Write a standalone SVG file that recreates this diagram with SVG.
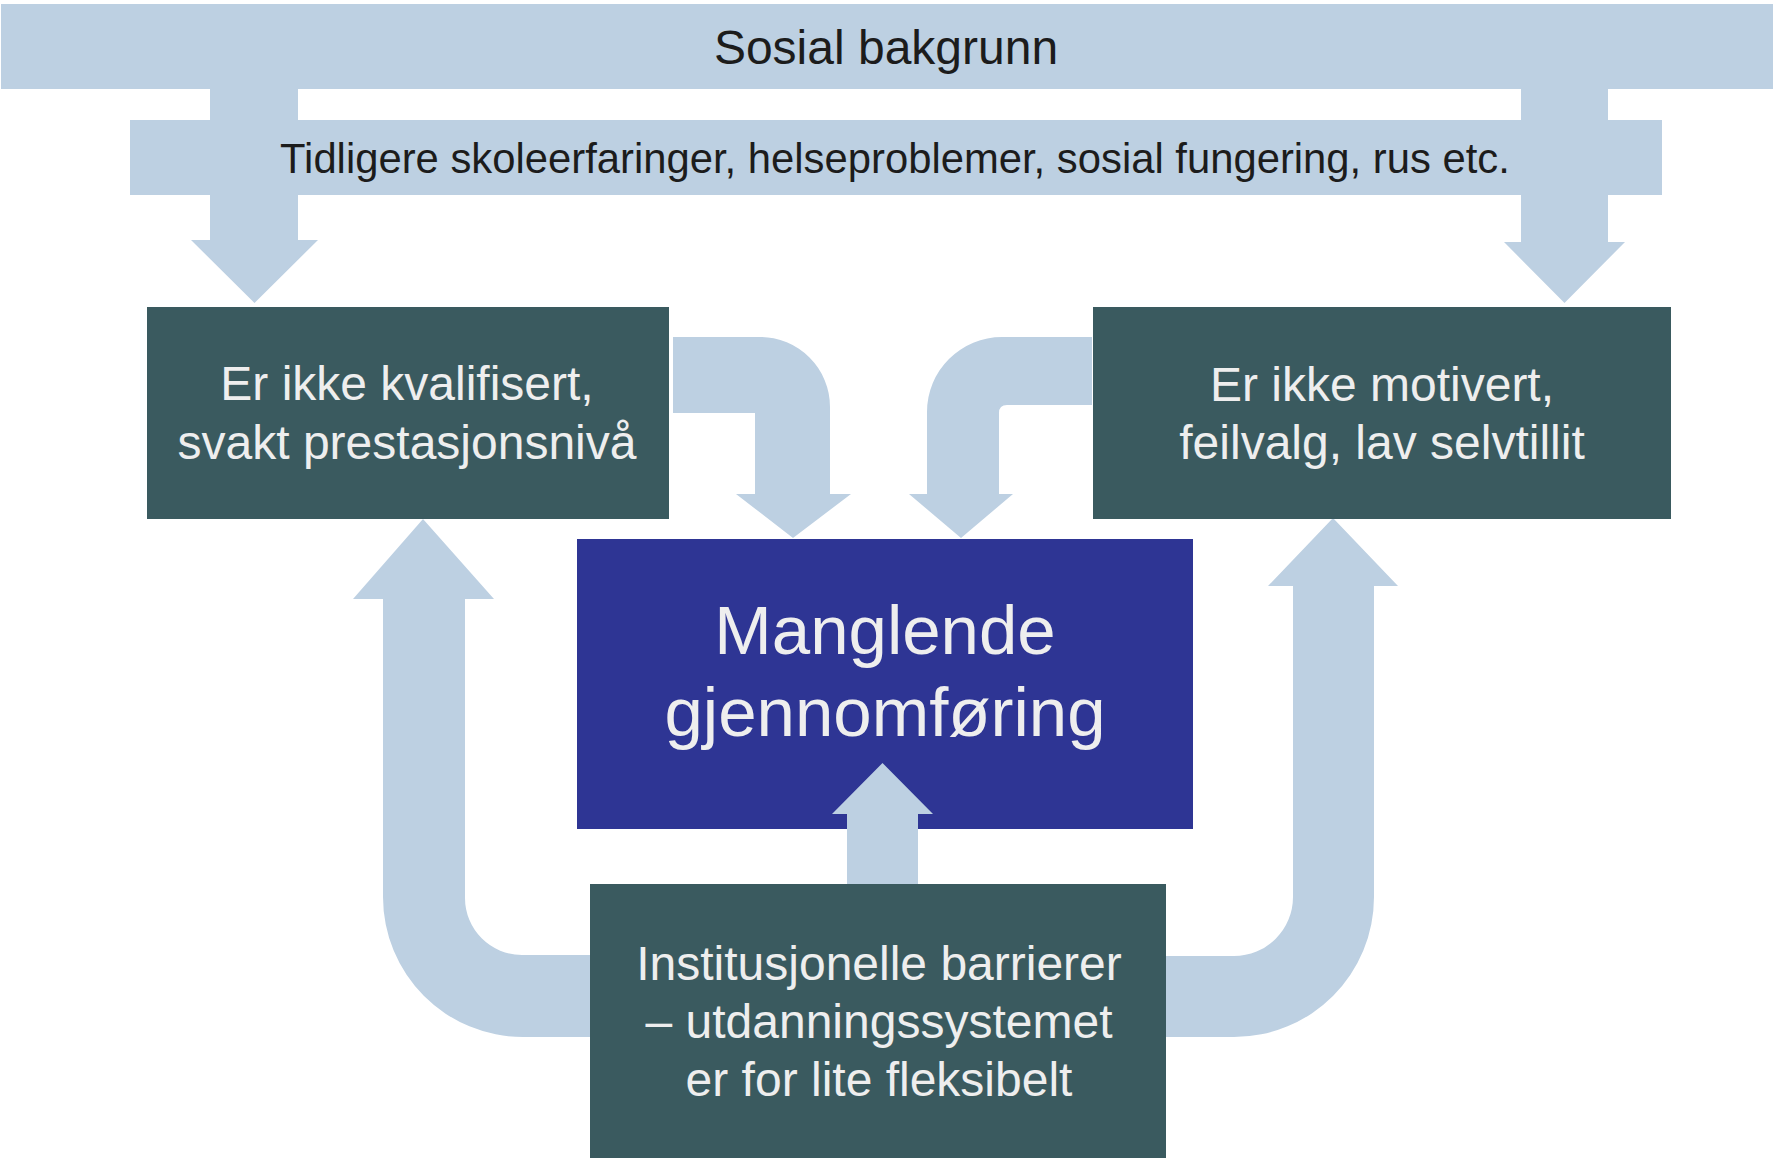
<svg xmlns="http://www.w3.org/2000/svg" width="1773" height="1158" viewBox="0 0 1773 1158">
  <style>
    .band { fill: #bdd0e2; }
    .arrow { fill: #bdd0e2; }
    .teal { fill: #3a5a5f; }
    .blue { fill: #2e3594; }
    text { font-family: "Liberation Sans", Arial, sans-serif; text-anchor: middle; }
    .dark { fill: #1c1c1c; }
    .light { fill: #eeeeee; }
  </style>
  <rect width="1773" height="1158" fill="#ffffff"/>

  <g id="manglende">
    <rect class="blue" x="577" y="539" width="616" height="290"/>
    <text class="light" x="885" y="654" font-size="69">Manglende</text>
    <text class="light" x="885" y="736" font-size="69">gjennomføring</text>
  </g>

  <g id="connectors">
    <polygon class="arrow" points="210,88 298,88 298,240 318,240 254.5,303 191,240 210,240"/>
    <polygon class="arrow" points="1521,88 1608,88 1608,242 1625,242 1564.5,303 1504,242 1521,242"/>
    <path class="arrow" d="M673,337 H760 A70,70 0 0 1 830,407 V494 H851 L793,538 L736,494 H755 V413 H673 Z"/>
    <path class="arrow" d="M1092,337 H1002 A75,75 0 0 0 927,412 V494 H909 L961,538 L1013,494 H999 V413 Q999,405 1007,405 H1092 Z"/>
    <path class="arrow" d="M423,519 L494,599 H465 V898 A57,57 0 0 0 522,955 H590 V1037 H523 A140,140 0 0 1 383,897 V599 H353 Z"/>
    <path class="arrow" d="M1333,518 L1398,586 H1374 V897 A140,140 0 0 1 1234,1037 H1166 V956 H1234 A59,59 0 0 0 1293,897 V586 H1268 Z"/>
    <polygon class="arrow" points="847,884 918,884 918,814 933,814 882.5,763 832,814 847,814"/>
  </g>

  <g id="sosial-bakgrunn">
    <rect class="band" x="1" y="4" width="1772" height="85"/>
    <text class="dark" x="886" y="64" font-size="48">Sosial bakgrunn</text>
  </g>

  <g id="tidligere">
    <rect class="band" x="130" y="120" width="1532" height="75"/>
    <text class="dark" x="895" y="173" font-size="41.8">Tidligere skoleerfaringer, helseproblemer, sosial fungering, rus etc.</text>
  </g>

  <g id="kvalifisert">
    <rect class="teal" x="147" y="307" width="522" height="212"/>
    <text class="light" x="407" y="400" font-size="48">Er ikke kvalifisert,</text>
    <text class="light" x="407" y="459" font-size="48">svakt prestasjonsnivå</text>
  </g>

  <g id="motivert">
    <rect class="teal" x="1093" y="307" width="578" height="212"/>
    <text class="light" x="1382" y="401" font-size="48">Er ikke motivert,</text>
    <text class="light" x="1382" y="459" font-size="48">feilvalg, lav selvtillit</text>
  </g>

  <g id="institusjonelle">
    <rect class="teal" x="590" y="884" width="576" height="274"/>
    <text class="light" x="879" y="980" font-size="48">Institusjonelle barrierer</text>
    <text class="light" x="879" y="1038" font-size="48">– utdanningssystemet</text>
    <text class="light" x="879" y="1096" font-size="48">er for lite fleksibelt</text>
  </g>
</svg>
